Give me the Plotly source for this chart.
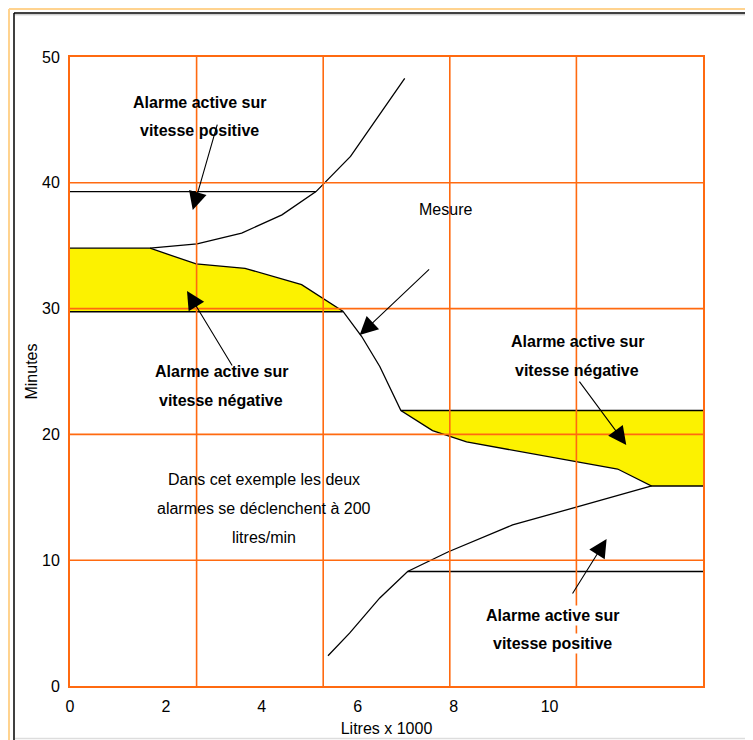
import plotly.graph_objects as go

# Courbe de mesure (litres x 1000 / minutes)
mesure_x = [0, 1.67, 2.63, 3.65, 4.83, 5.69, 6.08, 6.46, 6.90, 7.56, 8.27, 11.42, 12.13, 13.2]
mesure_y = [34.8, 34.8, 33.55, 33.2, 31.9, 29.8, 27.8, 25.4, 21.9, 20.3, 19.4, 17.25, 15.9, 15.9]

# Seuils vitesse positive (courbes qui s'écartent de la mesure)
pos_haut_x = [1.67, 2.65, 3.58, 4.42, 5.13, 5.85, 6.98]
pos_haut_y = [34.8, 35.15, 36.0, 37.45, 39.3, 42.1, 48.3]
pos_bas_x = [5.38, 5.83, 6.46, 7.04, 7.88, 9.23, 12.13]
pos_bas_y = [2.4, 4.2, 7.0, 9.1, 10.65, 12.8, 15.9]

# Niveaux horizontaux
seuil_pos_haut = 39.3
seuil_pos_bas = 9.1
seuil_neg_haut = 29.75
seuil_neg_bas = 21.9

x_max = 13.2
x_ticks = [0, 2, 4, 6, 8, 10]
y_ticks = [0, 10, 20, 30, 40, 50]
y_grid = [10, 20, 30, 40]
n_div_x = 5

label_pos = ["Alarme active sur", "vitesse positive"]
label_neg = ["Alarme active sur", "vitesse négative"]
label_info = ["Dans cet exemple les deux", "alarmes se déclenchent à 200", "litres/min"]

ORANGE = "#ff6a10"
JAUNE = "#fcf200"
FONT = "Liberation Sans, Arial, sans-serif"

# la page html ajoute 8 px de marge autour de la figure
W, H, OFF = 745, 732, 8
L, R, T, B = 62, 50, 49, 54

fig = go.Figure()

# zones jaunes (alarme vitesse négative)
fig.add_trace(go.Scatter(
    x=mesure_x[:6] + [0], y=mesure_y[:6] + [seuil_neg_haut],
    fill="toself", fillcolor=JAUNE, mode="none", hoverinfo="skip"))
fig.add_trace(go.Scatter(
    x=mesure_x[8:] + [x_max], y=mesure_y[8:] + [seuil_neg_bas],
    fill="toself", fillcolor=JAUNE, mode="none", hoverinfo="skip"))

ligne = dict(color="black", width=1.3)
fig.add_trace(go.Scatter(x=mesure_x, y=mesure_y, mode="lines", line=ligne))
fig.add_trace(go.Scatter(x=pos_haut_x, y=pos_haut_y, mode="lines", line=ligne))
fig.add_trace(go.Scatter(x=pos_bas_x, y=pos_bas_y, mode="lines", line=ligne))
fig.add_trace(go.Scatter(x=[0, pos_haut_x[4]], y=[seuil_pos_haut] * 2, mode="lines", line=ligne))
fig.add_trace(go.Scatter(x=[pos_bas_x[3], x_max], y=[seuil_pos_bas] * 2, mode="lines", line=ligne))
fig.add_trace(go.Scatter(x=[0, mesure_x[5]], y=[seuil_neg_haut] * 2, mode="lines", line=ligne))
fig.add_trace(go.Scatter(x=[mesure_x[8], x_max], y=[seuil_neg_bas] * 2, mode="lines", line=ligne))

# grille orange au-dessus des zones jaunes
shapes = []
for i in range(1, n_div_x):
    xv = i * x_max / n_div_x
    shapes.append(dict(type="line", xref="x", yref="y", x0=xv, x1=xv, y0=0, y1=50,
                       line=dict(color=ORANGE, width=1.6), layer="above"))
for yv in y_grid:
    shapes.append(dict(type="line", xref="x", yref="y", x0=0, x1=x_max, y0=yv, y1=yv,
                       line=dict(color=ORANGE, width=1.6), layer="above"))


# cadre de la page (coordonnées en pixels de la fenêtre)
def px_x(px):
    return (px - OFF - L) / (W - L - R)


def px_y(py):
    return (OFF + H - B - py) / (H - T - B)


shapes += [
    dict(type="line", xref="paper", yref="paper", x0=px_x(9), x1=px_x(9), y0=px_y(9), y1=px_y(760),
         line=dict(color="#ffd38f", width=2), layer="above"),
    dict(type="line", xref="paper", yref="paper", x0=px_x(9), x1=px_x(770), y0=px_y(9), y1=px_y(9),
         line=dict(color="#ffd38f", width=2), layer="above"),
    dict(type="line", xref="paper", yref="paper", x0=px_x(14), x1=px_x(14), y0=px_y(13), y1=px_y(760),
         line=dict(color="black", width=1.5), layer="above"),
    dict(type="line", xref="paper", yref="paper", x0=px_x(14), x1=px_x(770), y0=px_y(13), y1=px_y(13),
         line=dict(color="black", width=1.5), layer="above"),
    dict(type="line", xref="paper", yref="paper", x0=px_x(15), x1=px_x(770), y0=px_y(14.8), y1=px_y(14.8),
         line=dict(color="#bbbbbb", width=1), layer="above"),
    dict(type="line", xref="paper", yref="paper", x0=px_x(15), x1=px_x(770), y0=px_y(738.5), y1=px_y(738.5),
         line=dict(color="#dddddd", width=1.5), layer="above"),
]

annotations = []


def texte(lignes, x, y, gras=True, fond=None):
    for i, t in enumerate(lignes):
        annotations.append(dict(
            x=x, y=y, xref="x", yref="y", yshift=-28.7 * i, showarrow=False,
            text=f"<b>{t}</b>" if gras else t, bgcolor=fond,
            font=dict(family=FONT, size=16, color="black")))


def fleche(x0, y0, x1, y1):
    annotations.append(dict(
        x=x1, y=y1, ax=x0, ay=y0, xref="x", yref="y", axref="x", ayref="y",
        text="", showarrow=True, arrowhead=2, arrowsize=3.3, arrowwidth=1.1,
        arrowcolor="black", standoff=0))


texte(label_pos, 2.71, 46.42)
texte(["Mesure"], 7.83, 37.9, gras=False)
texte(label_neg, 3.15, 24.98)
texte(label_neg, 10.58, 27.35)
texte(label_info, 4.05, 16.38, gras=False)
texte(label_pos, 10.06, 5.64, fond="white")

fleche(3.08, 44.75, 2.56, 37.84)
fleche(7.52, 33.23, 6.04, 27.90)
fleche(3.40, 25.36, 2.44, 31.40)
fleche(10.60, 24.32, 11.60, 19.16)
fleche(10.46, 7.23, 11.19, 11.69)

fig.update_layout(
    width=W, height=H,
    margin=dict(l=L, r=R, t=T, b=B),
    paper_bgcolor="white", plot_bgcolor="white",
    showlegend=False,
    font=dict(family=FONT, size=16, color="black"),
    shapes=shapes, annotations=annotations,
    xaxis=dict(range=[0, x_max], tickvals=x_ticks, showgrid=False, zeroline=False,
               showline=True, mirror=True, linecolor=ORANGE, linewidth=2,
               ticks="", ticklabelstandoff=5, automargin=False,
               title=dict(text="Litres x 1000", standoff=9, font=dict(size=16))),
    yaxis=dict(range=[0, 50], tickvals=y_ticks, showgrid=False, zeroline=False,
               showline=True, mirror=True, linecolor=ORANGE, linewidth=2,
               ticks="", ticklabelstandoff=5, automargin=False,
               title=dict(text="Minutes", standoff=0, font=dict(size=16))),
)

fig.write_html("out.html")
